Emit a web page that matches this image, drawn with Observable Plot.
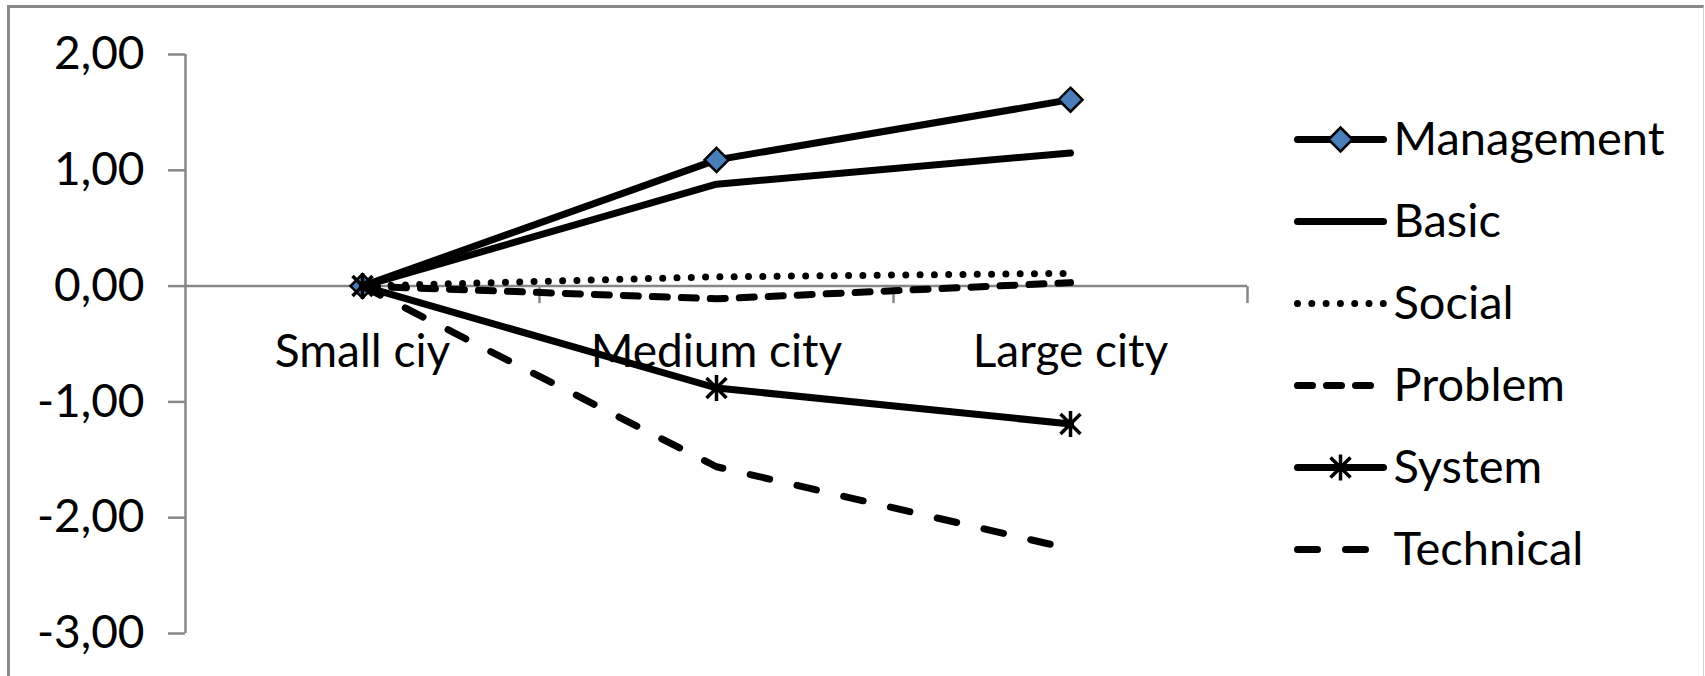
<!DOCTYPE html>
<html><head><meta charset="utf-8">
<script src="https://cdn.jsdelivr.net/npm/d3@7"></script>
<script src="https://cdn.jsdelivr.net/npm/@observablehq/plot@0.6"></script>
<style>
html,body{margin:0;padding:0;background:#fff;overflow:hidden;}
#wrap{position:relative;width:1705px;height:676px;font-family:Lato, sans-serif;}
#frame{position:absolute;left:7px;top:5px;width:1697px;height:690px;border-left:3px solid #8a8a8a;border-top:3px solid #8a8a8a;border-right:1px solid #d0d0d0;box-sizing:border-box;}
#chart,#legend{position:absolute;top:0;}
#chart{left:0;}
#legend{left:1280px;}
</style></head>
<body><div id="wrap"><div id="frame"></div><div id="chart"></div><div id="legend"></div></div>
<script>
// ---- data ----
const categories = ["Small ciy", "Medium city", "Large city"];
const seriesNames = ["Management", "Basic", "Social", "Problem", "System", "Technical"];
const management = [0, 1.09, 1.61];
const basic = [0, 0.88, 1.15];
const social = [0, 0.08, 0.11];
const problem = [0, -0.11, 0.03];
const system = [0, -0.88, -1.19];
const technical = [0, -1.56, -2.27];
const yTicks = [2, 1, 0, -1, -2, -3];

// ---- styles ----
const seriesValues = {Management: management, Basic: basic, Social: social, Problem: problem, System: system, Technical: technical};
const diamond = {draw(ctx) { const s = 12; ctx.moveTo(0, -s); ctx.lineTo(s, 0); ctx.lineTo(0, s); ctx.lineTo(-s, 0); ctx.closePath(); }};
const star = {draw(ctx) { const s = 13, d = 10; ctx.moveTo(0, -s); ctx.lineTo(0, s); ctx.moveTo(-d, -d); ctx.lineTo(d, d); ctx.moveTo(-d, d); ctx.lineTo(d, -d); }};
const tickDown = {draw(ctx) { ctx.moveTo(0, 0); ctx.lineTo(0, 17); }};
const style = {
  Management: {dash: null, marker: "diamond"},
  Basic: {dash: null},
  Social: {dash: "0 14.3"},
  Problem: {dash: "15 14"},
  System: {dash: null, marker: "star"},
  Technical: {dash: "20 28"}
};
const LW = 7;
const FS = 46;
const gray = "#878787";

function markerMarks(data, opts, name) {
  const m = style[name].marker;
  if (m === "diamond") return [Plot.dot(data, {...opts, symbol: diamond, fill: "#4A7EBB", stroke: "black", strokeWidth: 2.5})];
  if (m === "star") return [Plot.dot(data, {...opts, symbol: star, fill: "none", stroke: "black", strokeWidth: 3.5})];
  return [];
}

const marks = [
  Plot.ruleY([0], {stroke: gray, strokeWidth: 2.5}),
  Plot.ruleX([0], {stroke: gray, strokeWidth: 2.5}),
  Plot.dot(d3.range(1, categories.length + 1), {x: d => d, y: 0, symbol: tickDown, fill: "none", stroke: gray, strokeWidth: 2.5}),
  Plot.axisY(yTicks, {tickSize: 17, tickPadding: 24, tickFormat: d => d.toFixed(2).replace(".", ","), stroke: gray, strokeWidth: 2.5, fill: "black", fontSize: FS, label: null}),
  Plot.text(categories, {x: (d, i) => i + 0.5, y: 0, dy: 66, text: d => d, fontSize: FS, fill: "black", textAnchor: "middle", lineAnchor: "middle"})
];
for (const name of seriesNames) {
  const rows = seriesValues[name].map((v, i) => ({x: i + 0.5, y: v}));
  marks.push(Plot.line(rows, {x: "x", y: "y", stroke: "black", strokeWidth: LW, strokeDasharray: style[name].dash || undefined, strokeLinecap: "round", strokeLinejoin: "round"}));
  marks.push(...markerMarks(rows, {x: "x", y: "y"}, name));
}

const chart = Plot.plot({
  width: 1705, height: 676,
  marginLeft: 185, marginRight: 458, marginTop: 54, marginBottom: 43,
  x: {domain: [0, categories.length], axis: null},
  y: {domain: [-3, 2], axis: null},
  style: {fontFamily: "Lato, sans-serif", background: "transparent", overflow: "visible"},
  marks
});
document.getElementById("chart").appendChild(chart);

// ---- legend ----
const lmarks = [];
for (const name of seriesNames) {
  lmarks.push(Plot.link([name], {x1: 0, x2: 1, y1: d => d, y2: d => d, stroke: "black", strokeWidth: LW, strokeDasharray: style[name].dash || undefined, strokeLinecap: "round"}));
  lmarks.push(...markerMarks([name], {x: 0.5, y: d => d}, name));
}
lmarks.push(Plot.text(seriesNames, {x: 1, y: d => d, dx: 10, text: d => d, textAnchor: "start", fontSize: 47, fill: "black"}));
const legend = Plot.plot({
  width: 425, height: 676,
  marginLeft: 17, marginRight: 322, marginTop: 138, marginBottom: 127,
  x: {domain: [0, 1], axis: null},
  y: {type: "point", domain: seriesNames, padding: 0, axis: null},
  style: {fontFamily: "Lato, sans-serif", background: "transparent", overflow: "visible"},
  marks: lmarks
});
document.getElementById("legend").appendChild(legend);
</script>
</body></html>
